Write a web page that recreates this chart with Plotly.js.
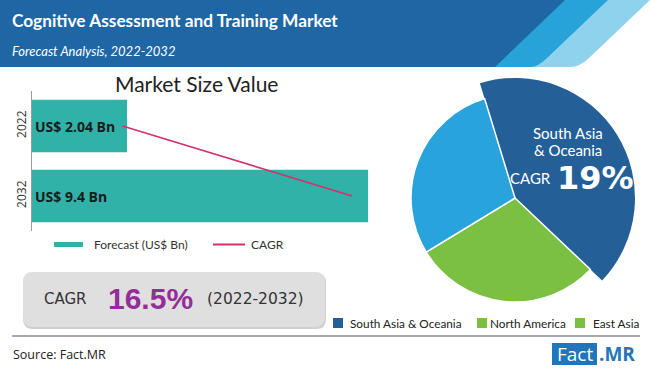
<!DOCTYPE html>
<html><head><meta charset="utf-8">
<script src="https://cdn.plot.ly/plotly-3.0.1.min.js"></script>
<style>html,body{margin:0;padding:0;background:#fff}#chart{width:650px;height:370px}</style>
</head><body><div id="chart"></div>
<script>
// ---------------- data ----------------
const years = ['2022', '2032'];
const marketSize = [2.04, 9.4];                 // US$ Bn
const cagrTrend = [0.26, 0.92];                 // CAGR trend line on its own hidden 0-1 axis
const regions = ['South Asia & Oceania', 'North America', 'East Asia'];
const regionShare = [41.8, 29.2, 29.0];         // % share (pie)
const regionColors = ['#245f98', '#7cc043', '#29a3dc'];
const legendColors = ['#245f98', '#7cc043', '#7cc043'];
const barLegend = ['Forecast (US$ Bn)', 'CAGR'];
const titleText = 'Cognitive Assessment and Training Market';
const subtitleText = 'Forecast Analysis, 2022-2032';
const chartTitle = 'Market Size Value';
const overallCagr = '16.5%';
const cagrLabel = 'CAGR';
const cagrPeriod = '(2022-2032)';
const highlightRegion = ['South Asia', '& Oceania'];
const highlightCagr = '19%';
const sourceText = 'Source: Fact.MR';

// ---------------- helpers (layout only) ----------------
const W = 650, H = 370;
const px = x => x / W;
const py = y => 1 - y / H;
const path = segs => segs.map(s => s[0] + s.slice(1).map((v, i) => (i % 2 === 0 ? px(v) : py(v)).toFixed(5)).join(',')).join(' ');
function rrect(x0, y0, x1, y1, r) {
  return path([['M', x0 + r, y0], ['L', x1 - r, y0], ['Q', x1, y0, x1, y0 + r], ['L', x1, y1 - r], ['Q', x1, y1, x1 - r, y1],
    ['L', x0 + r, y1], ['Q', x0, y1, x0, y1 - r], ['L', x0, y0 + r], ['Q', x0, y0, x0 + r, y0], ['Z']]);
}
const TEAL = '#30b2a8', CRIMSON = '#d4316b';
const GEO = 'Lato, "Open Sans", sans-serif';

// ---------------- traces ----------------
const traces = [
  {
    type: 'bar', orientation: 'h', y: years, x: marketSize,
    marker: { color: TEAL }, width: 0.75,
    texttemplate: 'US$ %{x} Bn', textposition: 'inside', insidetextanchor: 'start', constraintext: 'none',
    textfont: { family: '"Open Sans", sans-serif', size: 14, color: '#1b1b1b', weight: 'bold' },
    hoverinfo: 'skip', showlegend: false
  },
  {
    type: 'scatter', mode: 'lines', x: cagrTrend, y: years, xaxis: 'x2',
    line: { color: CRIMSON, width: 1.6 }, hoverinfo: 'skip', showlegend: false
  },
  {
    type: 'pie', values: regionShare, labels: regions, sort: false, direction: 'clockwise', rotation: -17,
    marker: { colors: [regionColors[0], 'rgba(0,0,0,0)', 'rgba(0,0,0,0)'], line: { width: 0 } },
    textinfo: 'none', hoverinfo: 'skip', showlegend: false,
    domain: { x: [px(395), px(635)], y: [py(318), py(78)] }
  },
  {
    type: 'pie', values: regionShare, labels: regions, sort: false, direction: 'clockwise', rotation: -17,
    marker: { colors: regionColors, line: { color: '#ffffff', width: [0, 1.5, 1.5] } },
    textinfo: 'none', hoverinfo: 'skip', showlegend: false,
    domain: { x: [px(411), px(619)], y: [py(302), py(94)] }
  }
];

// ---------------- shapes ----------------
const shapes = [
  // header band with stripes
  { type: 'path', xref: 'paper', yref: 'paper', line: { width: 0 }, fillcolor: '#8fd2ee',
    path: path([['M', 0, 0], ['L', 650, 0], ['L', 589, 58], ['Q', 580, 67, 570, 67], ['L', 0, 67], ['Z']]) },
  { type: 'path', xref: 'paper', yref: 'paper', line: { width: 0 }, fillcolor: '#28a3da',
    path: path([['M', 0, 0], ['L', 608, 0], ['L', 547, 58], ['Q', 538, 67, 530, 67], ['L', 0, 67], ['Z']]) },
  { type: 'path', xref: 'paper', yref: 'paper', line: { width: 0 }, fillcolor: '#1f66a4',
    path: path([['M', 0, 0], ['L', 565, 0], ['L', 495, 67], ['L', 0, 67], ['Z']]) },
  // CAGR box
  { type: 'path', xref: 'paper', yref: 'paper', line: { width: 0 }, fillcolor: '#d0d0d0', path: rrect(23, 273, 326, 329, 10) },
  { type: 'path', xref: 'paper', yref: 'paper', line: { width: 0 }, fillcolor: '#dfdfdf', path: rrect(23, 272, 325, 327, 10) },
  // separator
  { type: 'line', xref: 'paper', yref: 'paper', x0: px(12), x1: px(640), y0: py(336), y1: py(336), line: { color: '#a8a8a8', width: 2 } },
  // bar legend swatches
  { type: 'rect', xref: 'paper', yref: 'paper', x0: px(54), x1: px(83), y0: py(247), y1: py(242), line: { width: 0 }, fillcolor: TEAL },
  { type: 'line', xref: 'paper', yref: 'paper', x0: px(213), x1: px(245), y0: py(244.5), y1: py(244.5), line: { color: CRIMSON, width: 2 } },
  // pie legend swatches
  { type: 'rect', xref: 'paper', yref: 'paper', x0: px(333), x1: px(343), y0: py(328), y1: py(318), line: { width: 0 }, fillcolor: legendColors[0] },
  { type: 'rect', xref: 'paper', yref: 'paper', x0: px(477), x1: px(487), y0: py(328), y1: py(318), line: { width: 0 }, fillcolor: legendColors[1] },
  { type: 'rect', xref: 'paper', yref: 'paper', x0: px(575), x1: px(585), y0: py(328), y1: py(318), line: { width: 0 }, fillcolor: legendColors[2] },
  // logo box
  { type: 'rect', xref: 'paper', yref: 'paper', x0: px(552), x1: px(597), y0: py(365), y1: py(343), line: { width: 0 }, fillcolor: '#1f76bc' }
];

// ---------------- annotations ----------------
const A = (x, y, text, font, xanchor, extra) => Object.assign({
  xref: 'paper', yref: 'paper', x: px(x), y: py(y), text, font, xanchor: xanchor || 'left', yanchor: 'middle', showarrow: false
}, extra || {});
const LEG = { family: GEO, size: 11.8, color: '#222222' };
const annotations = [
  A(10, 21, '<b>' + titleText + '</b>', { family: GEO, size: 17.3, color: '#ffffff' }),
  A(10, 51, '<i>' + subtitleText + '</i>', { family: GEO, size: 13, color: '#ffffff' }),
  A(196, 83, chartTitle, { family: GEO, size: 21, color: '#222222' }, 'center'),
  A(92, 244.5, barLegend[0], { family: GEO, size: 12, color: '#333333' }),
  A(249, 244.5, barLegend[1], { family: GEO, size: 12, color: '#333333' }),
  A(42, 299, cagrLabel, { family: '"DejaVu Sans", sans-serif', size: 15, color: '#333333' }),
  A(106, 298, '<b>' + overallCagr + '</b>', { family: '"Liberation Sans", Arial, sans-serif', size: 30, color: '#952d98' }),
  A(205, 299, cagrPeriod, { family: '"DejaVu Sans", sans-serif', size: 15.5, color: '#333333' }),
  A(568, 133, highlightRegion[0], { family: GEO, size: 15, color: '#ffffff' }, 'center'),
  A(568, 150.5, highlightRegion[1], { family: GEO, size: 15, color: '#ffffff' }, 'center'),
  A(553, 178, cagrLabel, { family: GEO, size: 15, color: '#ffffff' }, 'right'),
  A(555, 177.5, '<b>' + highlightCagr + '</b>', { family: '"DejaVu Sans", sans-serif', size: 32, color: '#ffffff' }),
  A(348, 323.5, regions[0], LEG),
  A(488, 323.5, regions[1], LEG),
  A(591, 323.5, regions[2], LEG),
  A(11, 354, sourceText, { family: '"Open Sans", sans-serif', size: 12.5, color: '#222222' }),
  A(574.5, 354, 'Fact', { family: '"Open Sans", sans-serif', size: 19, color: '#ffffff' }, 'center'),
  A(597, 354, '<b>.MR</b>', { family: '"Open Sans", sans-serif', size: 19, color: '#1f76bc' })
];

const layout = {
  width: W, height: H, margin: { l: 0, r: 0, t: 0, b: 0 },
  paper_bgcolor: '#ffffff', plot_bgcolor: 'rgba(0,0,0,0)', showlegend: false,
  bargap: 0.25,
  xaxis: { type: 'log', range: [0.048, 1.006], domain: [px(32), px(380)], visible: false, fixedrange: true },
  xaxis2: { overlaying: 'x', range: [0, 1], visible: false, fixedrange: true },
  yaxis: {
    type: 'category', categoryorder: 'array', categoryarray: years, autorange: 'reversed',
    domain: [py(231), py(91)], showline: true, linecolor: '#9a9a9a', linewidth: 1.5,
    showgrid: false, zeroline: false, ticks: '', tickangle: -90,
    tickfont: { family: '"Open Sans", sans-serif', size: 12, color: '#333333' }, fixedrange: true
  },
  shapes, annotations
};

Plotly.newPlot('chart', traces, layout, { staticPlot: true, displayModeBar: false });
</script>
</body></html>
